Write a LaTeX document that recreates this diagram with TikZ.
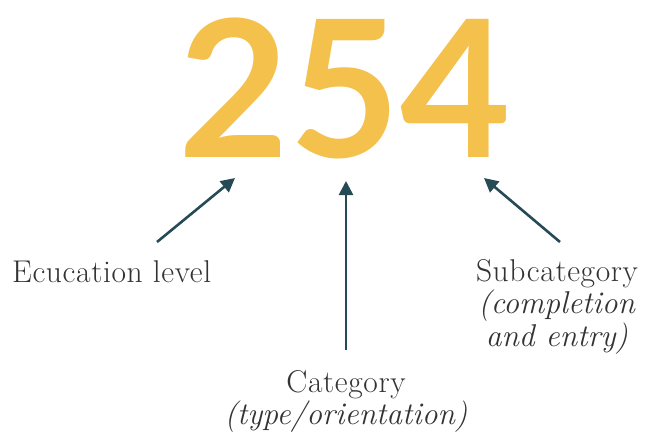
\documentclass[tikz,border=0pt]{standalone}
\usepackage{fontspec}
\setmainfont{Latin Modern Roman}[LetterSpace=2, ItalicFeatures={LetterSpace=0}]
\usetikzlibrary{arrows.meta}
\newfontfamily\digitfont{Lato Bold}
\definecolor{gold}{HTML}{F3C14C}
\definecolor{arrowcol}{HTML}{264A56}
\definecolor{txt}{HTML}{333333}
\begin{document}
\begin{tikzpicture}[x=1pt,y=-1pt,
  lbl/.style={font=\fontsize{31.5}{31.5}\selectfont, text=txt, inner sep=0pt, align=center},
  arr/.style={draw=arrowcol, line width=2.6pt, -{Triangle[length=14pt,width=14pt]}}]
\useasboundingbox (0,0) rectangle (646,434);
\node[font=\digitfont\fontsize{191}{191}\selectfont, text=gold, anchor=base, inner sep=0pt] (num) at (345,157) {254};
\node[lbl, anchor=base west] (edu) at (12,282) {Ecucation level};
\node[lbl, anchor=base] (sub) at (557,346) {Subcategory\\\textit{(completion}\\\textit{and entry)}};
\node[lbl, anchor=base] (cat) at (346,424) {Category\\\textit{(type/orientation)}};
\coordinate (s1) at (157,242); \coordinate (t1) at (235,178);
\coordinate (s2) at (346,350); \coordinate (t2) at (346,181);
\coordinate (s3) at (560,242); \coordinate (t3) at (484,178);
\draw[arr] (s1) -- (t1);
\draw[arr] (s2) -- (t2);
\draw[arr] (s3) -- (t3);
\end{tikzpicture}
\end{document}
